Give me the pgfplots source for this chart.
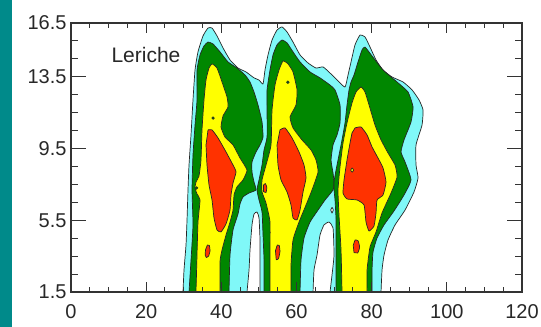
\documentclass[border=0pt]{standalone}
\usepackage{pgfplots}
\pgfplotsset{compat=1.18}
\usepackage{fontspec}
\setmainfont{Liberation Sans}
\definecolor{ccyan}{RGB}{128,248,248}
\definecolor{cgreen}{RGB}{0,135,0}
\definecolor{cyellow}{RGB}{255,255,0}
\definecolor{cred}{RGB}{255,50,0}
\definecolor{cteal}{RGB}{0,138,138}
\definecolor{ctext}{RGB}{40,40,40}
\begin{document}
\begin{tikzpicture}
\useasboundingbox (0,0) rectangle (541bp,327bp);
\fill[white] (0,0) rectangle (541bp,327bp);
\fill[cteal] (0,0) rectangle (12bp,327bp);
\begin{axis}[
  at={(71bp,35bp)}, anchor=south west,
  scale only axis, width=451bp, height=269bp,
  xmin=0, xmax=120, ymin=1.5, ymax=16.5,
  xtick={0,20,...,120}, minor x tick num=3,
  ytick={1.5,5.5,9.5,13.5,16.5}, yticklabels={1.5,5.5,9.5,13.5,16.5},
  minor ytick={2.5,3.5,4.5,6.5,7.5,8.5,10.5,11.5,12.5,14.5,15.5},
  tick align=inside,
  axis line style={line width=1.2bp, black!80},
  tick style={line width=1bp, black!80},
  xtick style={/pgfplots/major tick length=10bp,/pgfplots/minor tick length=5bp},
  ytick style={/pgfplots/major tick length=15bp,/pgfplots/minor tick length=7bp},
  tick label style={font=\fontsize{20bp}{24bp}\selectfont, text=ctext},
  xticklabel style={yshift=-9bp},
  yticklabel style={xshift=-1bp},
  /pgf/number format/assume math mode=true,
  axis on top,
  cont/.style={draw=black!85, line width=0.7bp, line join=round, mark=none, smooth, tension=0.3},
]
% lowest level (cyan), outer envelope
\addplot[cont, fill=ccyan] coordinates {
(29.80,1.50) (30.07,2.73) (30.60,4.12) (30.87,5.52) (31.13,7.19) (31.40,8.58) (31.93,10.26) (32.46,12.21) (33.00,13.88) (33.79,14.89) (35.13,15.78) (36.46,16.22) (37.52,16.22) (38.85,15.78) (40.45,15.11) (42.31,14.44) (44.44,13.99) (46.57,13.77) (48.70,13.44) (50.03,13.32) (51.09,13.10) (51.62,13.88) (52.42,14.72) (53.49,15.55) (54.82,16.11) (56.15,16.28) (57.48,16.00) (59.07,15.44) (60.94,14.72) (63.07,14.27) (65.19,13.99) (67.06,14.05) (68.92,13.71) (71.05,13.27) (72.91,12.93) (73.71,13.60) (74.51,14.33) (75.57,15.28) (76.90,15.83) (78.23,15.72) (79.56,15.16) (81.16,14.44) (83.02,13.88) (85.42,13.49) (88.35,13.21) (90.74,12.77) (92.60,12.21) (93.67,11.65) (93.40,10.81) (91.80,9.70) (91.80,8.58) (92.34,7.86) (91.27,7.08) (88.88,6.07) (86.22,5.24) (84.35,4.40) (83.29,3.56) (82.76,2.73) (82.49,1.50)
} -- cycle;
% gaps below the lowest level
\addplot[cont, fill=white] coordinates {
(46.83,1.50) (47.37,2.73) (47.63,3.84) (48.16,5.24) (48.70,5.85) (49.49,5.96) (50.03,5.63) (50.29,4.40) (50.29,3.01) (50.29,1.50)
} -- cycle;
\addplot[cont, fill=white] coordinates {
(64.40,1.50) (64.66,2.73) (65.46,3.56) (66.26,4.68) (67.32,5.24) (68.65,5.40) (69.72,5.07) (69.98,3.56) (69.45,2.45) (68.92,1.50)
} -- cycle;
\addplot[cont, fill=white] coordinates {(69.1,6.07) (69.45,6.22) (69.8,6.07) (69.45,5.90)} -- cycle;
% second level (green)
\addplot[cont, fill=cgreen] coordinates {
(31.40,1.50) (31.93,3.28) (32.46,5.24) (32.20,7.19) (32.46,9.14) (33.00,10.81) (33.53,12.21) (33.53,13.88) (34.33,14.72) (35.39,15.22) (36.46,15.44) (37.79,15.33) (39.65,14.89) (41.78,14.33) (44.17,13.99) (46.30,13.60) (47.63,13.21) (48.70,12.65) (49.76,11.93) (50.83,10.98) (51.09,10.14) (50.29,9.70) (49.23,9.31) (48.16,8.75) (48.16,8.19) (48.70,7.63) (49.23,7.19) (47.37,7.02) (45.77,6.80) (44.97,6.41) (44.44,5.85) (43.11,4.96) (42.31,3.56) (42.04,1.50)
} -- cycle;
\addplot[cont, fill=cgreen] coordinates {
(51.36,1.50) (51.36,3.28) (51.09,4.68) (50.83,5.96) (50.03,6.63) (49.49,7.19) (50.03,7.75) (50.83,8.58) (51.36,9.42) (52.16,10.14) (52.16,11.65) (52.16,12.77) (52.95,13.88) (53.75,14.72) (54.82,15.28) (56.15,15.55) (57.48,15.39) (59.07,14.89) (60.94,14.33) (63.60,13.77) (66.26,13.44) (68.92,13.04) (70.25,12.77) (71.58,11.93) (71.58,10.93) (70.78,10.26) (69.72,9.70) (69.19,8.86) (69.72,8.14) (69.98,7.63) (69.72,7.19) (67.59,6.63) (65.73,6.07) (63.60,5.40) (62.00,4.51) (61.20,3.28) (60.94,1.50)
} -- cycle;
\addplot[cont, fill=cgreen] coordinates {
(70.52,1.50) (70.52,3.84) (70.52,5.52) (70.25,6.63) (69.98,7.19) (69.98,7.63) (70.52,8.30) (71.31,9.14) (72.11,9.98) (72.91,10.93) (73.44,11.93) (73.98,12.77) (74.51,13.21) (75.30,13.60) (76.37,14.33) (77.44,15.00) (78.23,15.16) (80.10,14.66) (83.02,13.88) (86.75,13.21) (89.68,12.65) (91.01,11.82) (90.47,10.98) (88.61,9.98) (87.81,9.31) (88.88,8.75) (90.47,7.75) (88.61,6.91) (85.95,6.02) (83.29,5.24) (81.43,4.51) (80.36,3.73) (80.10,2.73) (80.10,1.50)
} -- cycle;
% third level (yellow)
\addplot[cont, fill=cyellow] coordinates {
(33.26,1.50) (33.53,3.56) (33.79,5.40) (34.33,6.63) (33.53,6.97) (33.00,7.30) (33.26,7.63) (34.06,7.97) (34.59,8.86) (34.86,10.54) (35.39,12.21) (35.92,13.32) (36.72,13.99) (37.52,14.22) (38.85,13.99) (40.18,13.21) (41.51,12.38) (41.78,11.82) (40.45,11.32) (39.92,10.70) (40.98,10.14) (43.11,9.70) (44.97,8.97) (46.83,8.30) (45.77,7.75) (44.17,7.36) (43.38,6.91) (43.11,6.07) (42.31,5.40) (41.25,4.68) (40.18,3.84) (39.65,3.20) (39.65,1.50)
} -- cycle;
\addplot[cont, fill=cyellow] coordinates {
(52.95,1.50) (52.95,3.56) (52.95,5.40) (51.89,6.46) (50.83,7.08) (50.83,7.75) (51.89,8.58) (53.22,9.70) (53.49,11.65) (54.28,13.04) (55.35,13.88) (56.41,14.38) (57.74,14.22) (59.07,13.77) (60.14,12.77) (59.87,11.93) (58.28,11.26) (59.07,10.65) (61.47,9.98) (63.86,9.42) (65.19,8.86) (65.73,8.19) (64.13,7.19) (62.53,6.35) (60.67,5.40) (59.07,4.40) (58.54,3.01) (58.54,1.50)
} -- cycle;
\addplot[cont, fill=cyellow] coordinates {
(72.11,1.50) (71.85,3.84) (71.31,5.79) (71.05,7.19) (71.58,8.47) (72.38,9.81) (73.44,10.93) (74.77,12.04) (75.84,12.65) (77.17,12.93) (78.23,12.65) (79.30,11.93) (80.89,10.81) (82.49,9.98) (84.35,9.25) (86.22,8.58) (86.75,7.91) (85.15,7.02) (82.76,5.91) (81.16,4.85) (79.56,4.01) (78.77,2.73) (78.77,1.50)
} -- cycle;
% highest level (red)
\addplot[cont, fill=cred] coordinates {
(36.46,10.54) (37.52,10.54) (39.12,10.09) (41.25,9.31) (43.11,8.58) (43.91,8.19) (43.11,7.58) (42.58,6.91) (42.31,6.07) (41.25,5.30) (39.92,4.85) (38.85,4.96) (38.05,5.63) (37.52,6.63) (36.72,7.47) (36.19,8.58) (35.92,9.70)
} -- cycle;
\addplot[cont, fill=cred] coordinates {
(55.61,10.54) (56.95,10.65) (58.81,10.09) (60.67,9.31) (62.00,8.58) (62.53,7.86) (61.74,7.08) (60.94,6.07) (60.14,5.52) (59.07,5.63) (58.54,6.35) (57.48,7.08) (55.88,7.75) (55.08,8.58) (54.82,9.70)
} -- cycle;
\addplot[cont, fill=cred] coordinates {
(75.57,10.65) (77.17,10.70) (78.77,10.26) (80.10,9.59) (81.69,8.97) (83.02,8.42) (83.82,7.63) (83.02,6.91) (81.43,6.63) (81.16,5.91) (80.62,5.18) (79.30,4.90) (78.50,5.40) (77.97,6.35) (76.10,6.63) (73.44,6.69) (72.38,7.02) (72.65,7.75) (73.44,8.86) (74.24,9.81) (74.77,10.37)
} -- cycle;
% small patches
\addplot[cont, fill=cred] coordinates {(36.0,3.42) (36.6,3.50) (37.0,3.80) (36.8,4.10) (36.3,4.12) (35.8,3.85) (35.7,3.55)} -- cycle;
\addplot[cont, fill=cred] coordinates {(54.6,3.30) (55.2,3.35) (55.6,3.75) (55.4,4.10) (54.9,4.12) (54.4,3.80)} -- cycle;
\addplot[cont, fill=cred] coordinates {(75.3,3.70) (76.3,3.68) (76.8,4.00) (76.4,4.35) (75.6,4.40) (75.1,4.10)} -- cycle;
\addplot[cont, fill=cred] coordinates {(51.2,7.10) (51.9,7.05) (52.1,7.35) (51.7,7.55) (51.2,7.45)} -- cycle;
\addplot[cont, fill=cyellow] coordinates {(74.4,8.30) (74.8,8.18) (75.2,8.30) (74.8,8.42)} -- cycle;
\addplot[only marks, mark=*, mark size=1.3bp, mark options={fill=cgreen, draw=black!85, line width=0.6bp}] coordinates {(37.8,11.2) (57.7,13.2) (33.4,7.3)};
\node[anchor=base west, font=\fontsize{21bp}{24bp}\selectfont, text=ctext] at (axis cs:9.85,14.27) {Leriche};
\end{axis}
\end{tikzpicture}
\end{document}
